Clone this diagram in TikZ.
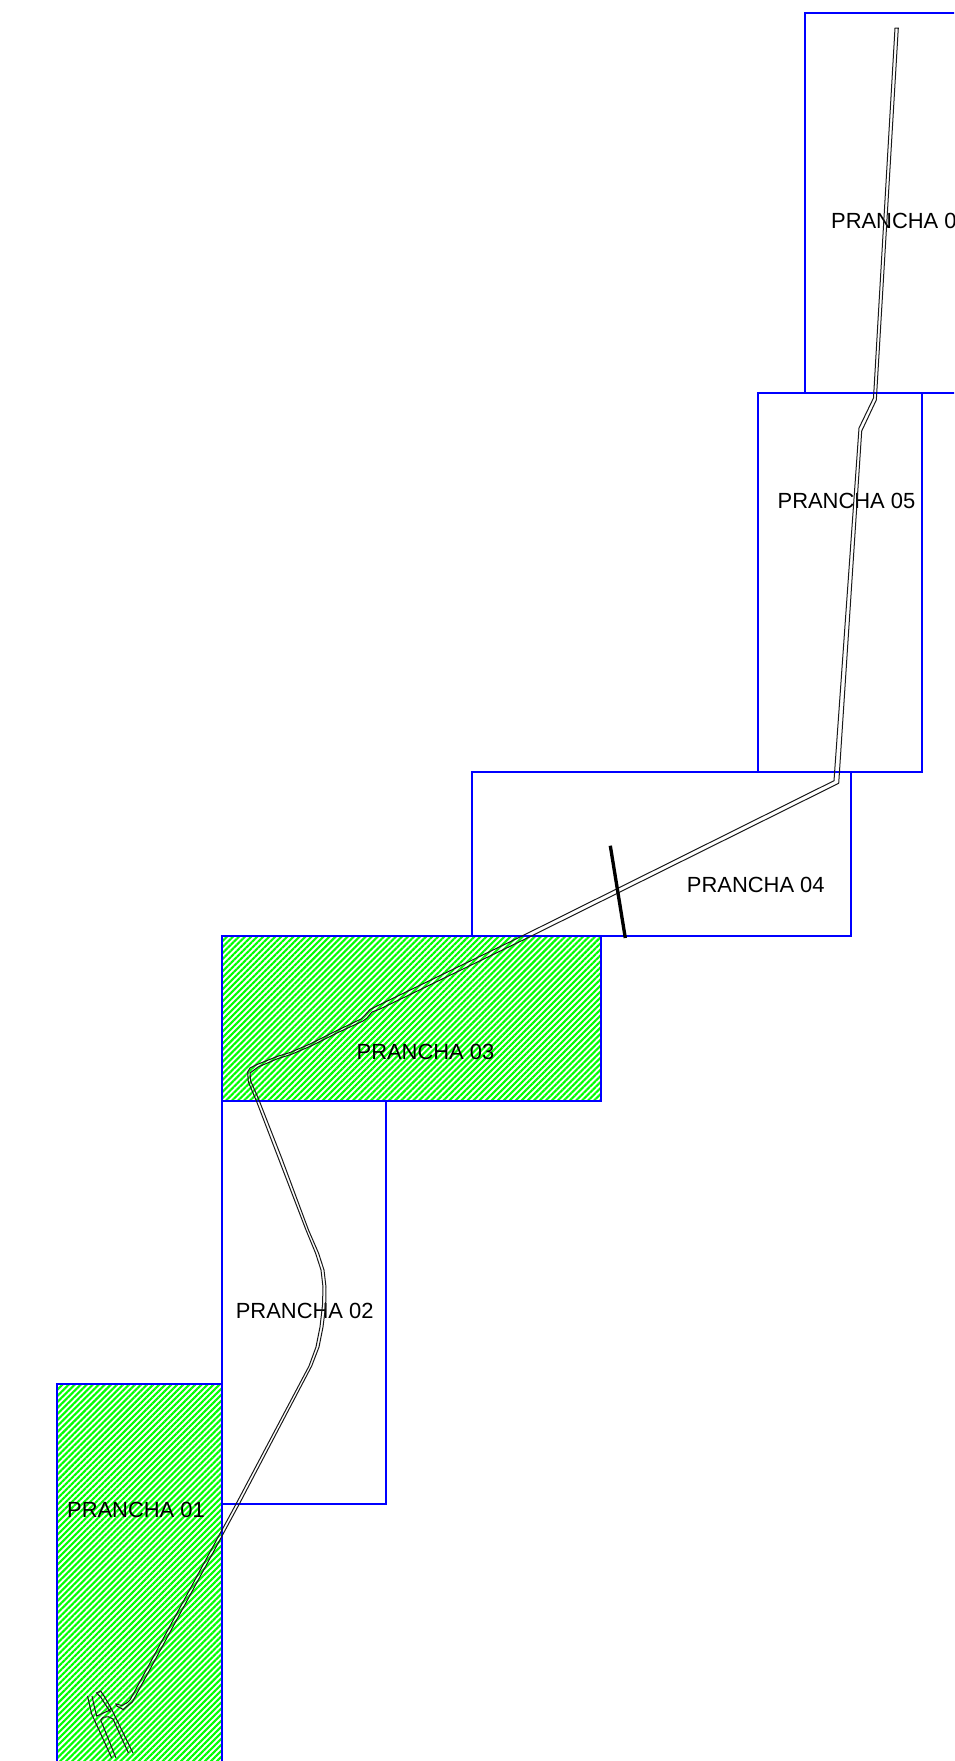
\documentclass[tikz,border=0pt]{standalone}
\usepackage{fontspec}
\setmainfont{Liberation Sans}
\usetikzlibrary{patterns.meta}
\tikzstyle{sheet} = [draw=blue, line width=1.25pt]
\tikzstyle{hatched} = [sheet, pattern={Lines[angle=45, distance=3.2pt, line width=1.6pt]}, pattern color=green]
\tikzstyle{sheetlabel} = [font=\fontsize{16.45pt}{18pt}\selectfont, inner sep=0pt]
\tikzstyle{road} = [draw=black!90, line width=0.75pt, line join=miter]
\tikzstyle{cutbar} = [draw=black, line width=2.5pt]
\newcommand{\drawsheet}[5]{\draw[#1] #2 rectangle #3;
	\node (prancha#4) [sheetlabel] at #5 {PRANCHA #4}}
\begin{document}
\begin{tikzpicture}[x=0.75pt, y=-0.75pt]
		\useasboundingbox (0,0) rectangle (954,1761);
		\clip (0,0) rectangle (954,1761);
		
			\drawsheet{sheet}{(805,13)}{(1000,393)}{06}{(900,220.5)};
			\drawsheet{sheet}{(758,393)}{(922,772)}{05}{(846.5,500.5)};
			\drawsheet{sheet}{(471.7,772)}{(851,936)}{04}{(755.8,884.8)};
			\drawsheet{hatched}{(222,936)}{(600.7,1101)}{03}{(425.5,1051.7)};
			\drawsheet{sheet}{(222,1101)}{(385.7,1504)}{02}{(304.7,1310.7)};
			\drawsheet{hatched}{(57,1384)}{(222,1800)}{01}{(136,1510)};
			
			% estrada
			\draw [road] (895,28) -- (873.5,398) -- (859,428) -- (834,780.7) -- (520,937)
				-- (378,1005.5) -- (370,1009.5) -- (365.5,1014.5) -- (361,1019) -- (337,1030.5)
				-- (310,1044) -- (290,1052.5) -- (277,1056.5) -- (257,1064.5) -- (250,1068)
				-- (247.7,1072) -- (248.3,1081.7) -- (256.7,1101.7) -- (278.3,1158) -- (306,1230)
				-- (315.5,1253) -- (321,1270) -- (323,1287) -- (322.5,1305) -- (320,1327)
				-- (316,1347) -- (309,1366) -- (236,1504) -- (130,1700) -- (127.5,1702.5)
				-- (122,1705.5) -- (116,1704) -- (116.7,1706) -- (123.3,1709.5) -- (128,1705.5)
				-- (132.3,1702) -- (239.3,1504) -- (311.7,1366) -- (319,1347) -- (323,1327)
				-- (325.7,1305) -- (326,1287) -- (324,1270) -- (318.5,1253) -- (308.5,1230)
				-- (281.7,1158) -- (259,1100) -- (250.7,1081) -- (250,1073) -- (258,1067)
				-- (278,1058.5) -- (291,1054.5) -- (311,1046) -- (338,1032.5) -- (363,1021)
				-- (367,1018) -- (372,1012) -- (380,1009) -- (530,936.7) -- (838.7,783.3)
				-- (861.7,431) -- (876.3,400) -- (898.3,28) -- cycle;
			
			% ramal
			\draw [road] (87.5,1696) -- (90,1706.7) -- (91.7,1714) -- (111.7,1758);
			\draw [road] (92,1696) -- (94.3,1706.7) -- (96.7,1716) -- (103.3,1713) -- (109,1710.5) -- (111,1708);
			\draw [road] (133,1753) -- (111,1708) -- (104,1696) -- (100.7,1691) -- (96.5,1693)
				-- (100.7,1697) -- (107,1707) -- (110.5,1712);
			\draw [road] (116,1758) -- (100.7,1720) -- (103.3,1717.3) -- (108.3,1716.7) -- (113,1719) -- (128.5,1753);
			
			\coordinate (barTop) at (610.3,845.7);
			\coordinate (barBottom) at (625.3,938);
			\draw [cutbar] (barTop) -- (barBottom);
		\end{tikzpicture}
\end{document}
